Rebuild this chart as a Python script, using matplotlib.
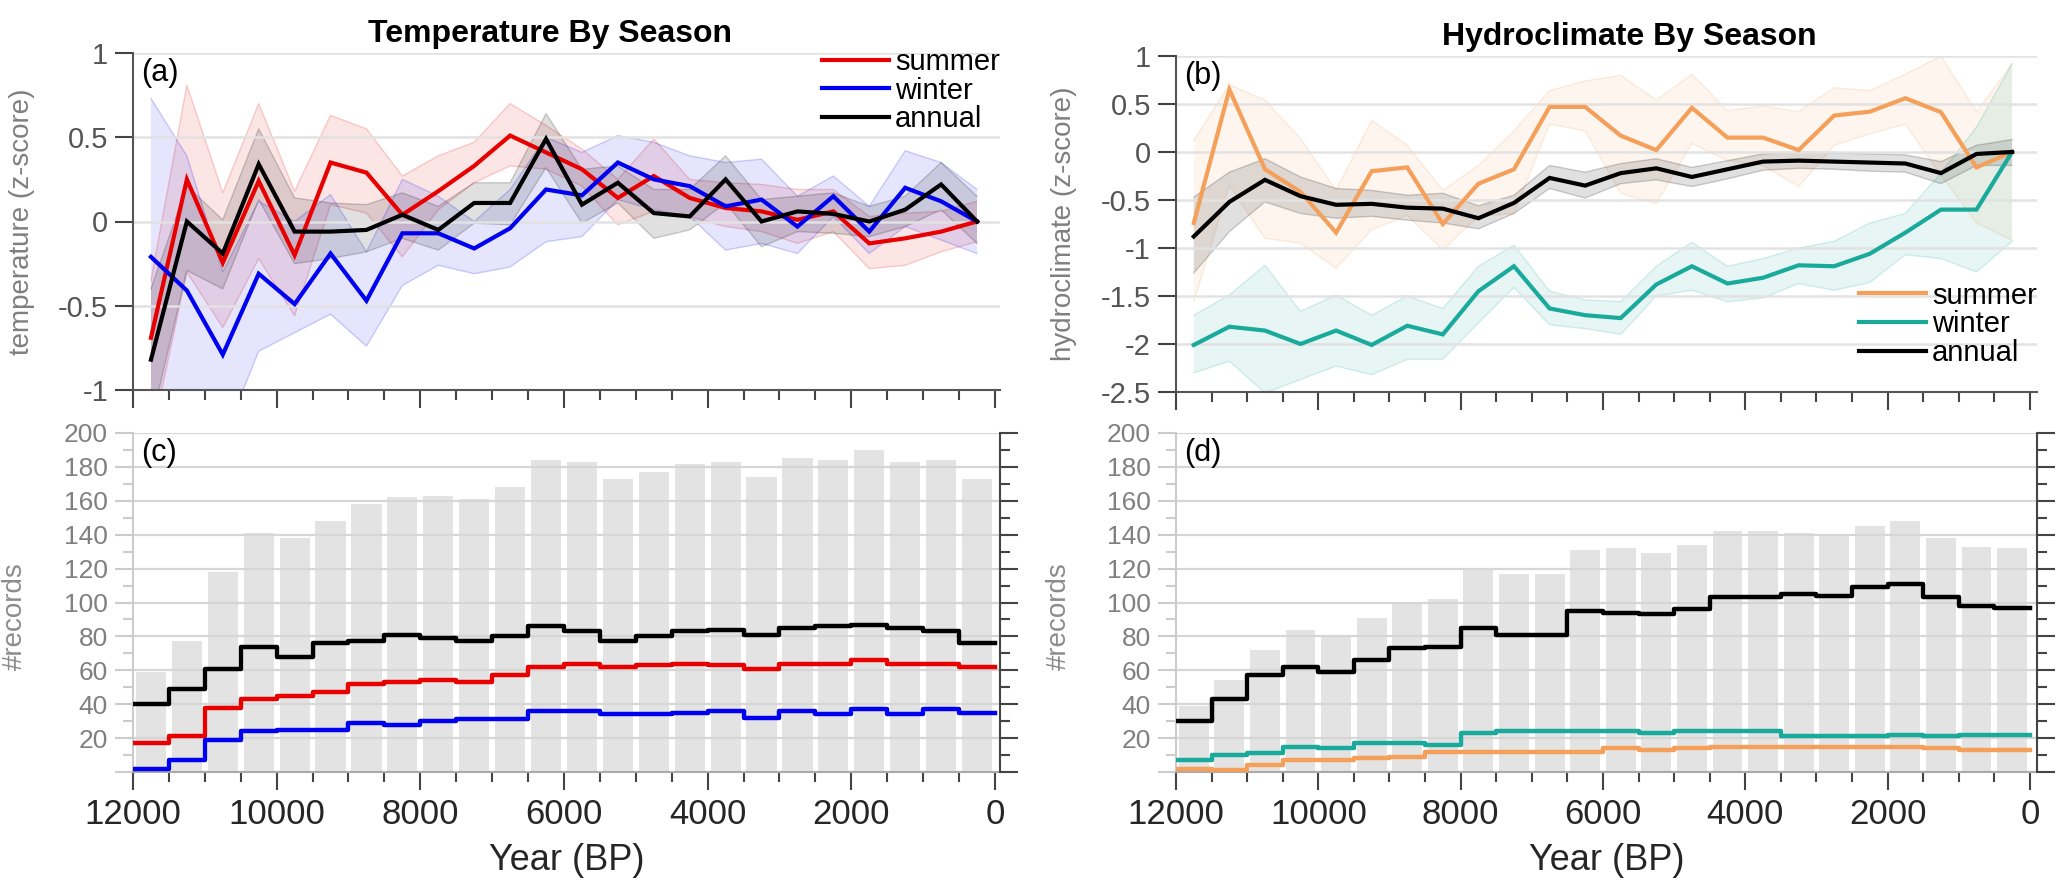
import matplotlib
matplotlib.use('Agg')
import matplotlib.pyplot as plt
import numpy as np
from matplotlib.ticker import MultipleLocator, FuncFormatter

plt.rcParams['font.family'] = ['Liberation Sans', 'DejaVu Sans']
plt.rcParams['axes.unicode_minus'] = False

# bin centres and bin edges (years BP)
ages = [11750, 11250, 10750, 10250, 9750, 9250, 8750, 8250, 7750, 7250, 6750, 6250,
        5750, 5250, 4750, 4250, 3750, 3250, 2750, 2250, 1750, 1250, 750, 250]
edges = [12000, 11500, 11000, 10500, 10000, 9500, 9000, 8500, 8000, 7500, 7000, 6500, 6000,
         5500, 5000, 4500, 4000, 3500, 3000, 2500, 2000, 1500, 1000, 500, 0]

# (a) temperature composites (z-score) with uncertainty band
temp_summer = [-0.69, 0.25, -0.245, 0.24, -0.2, 0.35, 0.29, 0.04, 0.18, 0.33, 0.51, 0.41,
               0.31, 0.14, 0.27, 0.14, 0.08, 0.06, 0.01, 0.06, -0.13, -0.10, -0.06, 0.0]
temp_summer_hi = [-0.35, 0.81, 0.17, 0.70, 0.18, 0.63, 0.55, 0.27, 0.39, 0.47, 0.70, 0.57,
                  0.43, 0.25, 0.49, 0.25, 0.23, 0.22, 0.19, 0.19, 0.03, 0.05, 0.06, 0.12]
temp_summer_lo = [-1.3, -0.30, -0.63, -0.22, -0.56, 0.10, 0.05, -0.21, 0.07, 0.23, 0.33, 0.31,
                  0.21, -0.02, 0.06, 0.03, -0.03, -0.06, -0.13, -0.06, -0.28, -0.26, -0.18, -0.12]
temp_winter = [-0.21, -0.41, -0.79, -0.31, -0.49, -0.19, -0.47, -0.07, -0.07, -0.16, -0.04, 0.19,
               0.155, 0.35, 0.25, 0.21, 0.09, 0.13, -0.03, 0.15, -0.06, 0.20, 0.12, 0.0]
temp_winter_hi = [0.73, 0.39, -0.30, 0.12, 0.0, 0.16, -0.18, 0.25, 0.15, 0.0, 0.19, 0.50,
                  0.41, 0.51, 0.47, 0.39, 0.35, 0.37, 0.15, 0.27, 0.09, 0.42, 0.35, 0.19]
temp_winter_lo = [-1.4, -1.25, -1.3, -0.77, -0.66, -0.55, -0.74, -0.38, -0.26, -0.31, -0.27, -0.12,
                  -0.09, 0.13, 0.07, 0.03, -0.17, -0.13, -0.19, 0.03, -0.19, -0.03, -0.11, -0.19]
temp_annual = [-0.82, 0.0, -0.19, 0.34, -0.06, -0.06, -0.05, 0.04, -0.05, 0.11, 0.11, 0.49,
               0.10, 0.23, 0.05, 0.03, 0.25, 0.0, 0.06, 0.045, 0.0, 0.07, 0.22, 0.0]
temp_annual_hi = [-0.40, 0.21, 0.01, 0.55, 0.14, 0.11, 0.10, 0.17, 0.09, 0.23, 0.23, 0.64,
                  0.31, 0.33, 0.19, 0.19, 0.39, 0.13, 0.15, 0.17, 0.09, 0.15, 0.35, 0.15]
temp_annual_lo = [-1.2, -0.29, -0.40, 0.13, -0.25, -0.22, -0.18, -0.10, -0.17, -0.01, -0.02, 0.32,
                  -0.01, 0.11, -0.10, -0.05, 0.11, -0.15, -0.06, -0.07, -0.09, -0.03, 0.07, -0.13]

# (b) hydroclimate composites (z-score)
hydro_summer = [-0.74, 0.65, -0.18, -0.415, -0.84, -0.20, -0.16, -0.75, -0.33, -0.18, 0.47, 0.47,
                0.17, 0.02, 0.46, 0.15, 0.15, 0.02, 0.38, 0.42, 0.56, 0.415, -0.16, 0.0]
hydro_summer_hi = [0.12, 0.70, 0.54, 0.14, -0.40, 0.33, 0.07, -0.40, -0.14, 0.22, 0.64, 0.74,
                   0.80, 0.54, 0.81, 0.43, 0.48, 0.42, 0.67, 0.64, 0.81, 1.0, 0.42, 0.92]
hydro_summer_lo = [-1.56, -0.35, -0.90, -0.95, -1.21, -0.81, -0.66, -1.02, -0.67, -0.64, 0.29, 0.22,
                   -0.43, -0.54, 0.09, -0.09, -0.14, -0.36, 0.07, 0.19, 0.29, -0.24, -0.74, -0.92]
hydro_winter = [-2.01, -1.82, -1.86, -2.0, -1.86, -2.01, -1.81, -1.90, -1.45, -1.19, -1.63, -1.70,
                -1.73, -1.38, -1.19, -1.37, -1.31, -1.18, -1.19, -1.06, -0.84, -0.60, -0.60, 0.0]
hydro_winter_hi = [-1.70, -1.49, -1.18, -1.66, -1.49, -1.70, -1.50, -1.63, -1.19, -0.97, -1.45, -1.54,
                   -1.56, -1.19, -0.94, -1.19, -1.11, -1.00, -0.93, -0.74, -0.64, -0.22, 0.26, 0.92]
hydro_winter_lo = [-2.30, -2.18, -2.51, -2.37, -2.23, -2.32, -2.16, -2.16, -1.78, -1.41, -1.80, -1.84,
                   -1.90, -1.50, -1.44, -1.56, -1.52, -1.37, -1.44, -1.36, -1.07, -1.11, -1.25, -0.93]
hydro_annual = [-0.88, -0.52, -0.29, -0.46, -0.55, -0.54, -0.58, -0.59, -0.69, -0.53, -0.27, -0.35,
                -0.22, -0.17, -0.26, -0.18, -0.10, -0.09, -0.10, -0.11, -0.12, -0.22, -0.02, 0.0]
hydro_annual_hi = [-0.47, -0.21, -0.07, -0.26, -0.38, -0.40, -0.45, -0.43, -0.56, -0.45, -0.14, -0.21,
                   -0.12, -0.07, -0.16, -0.09, -0.02, 0.0, -0.01, -0.02, -0.03, -0.10, 0.07, 0.13]
hydro_annual_lo = [-1.26, -0.83, -0.52, -0.64, -0.69, -0.67, -0.71, -0.74, -0.80, -0.64, -0.38, -0.48,
                   -0.33, -0.29, -0.36, -0.28, -0.19, -0.17, -0.18, -0.20, -0.21, -0.33, -0.14, -0.14]

# (c) number of temperature records per bin
temp_total = [59, 77, 118, 141, 138, 148, 158, 162, 163, 161, 168, 184,
              183, 173, 177, 182, 183, 174, 185, 184, 190, 183, 184, 173]
temp_n_annual = [40, 49, 61, 74, 68, 76, 77, 81, 79, 77, 80, 86,
                 83, 77, 80, 83, 84, 81, 85, 86, 87, 85, 83, 76]
temp_n_summer = [17, 21, 38, 43, 45, 47, 52, 53, 54, 53, 57, 62,
                 64, 62, 63, 64, 63, 61, 64, 64, 66, 64, 64, 62]
temp_n_winter = [2, 7, 19, 24, 25, 25, 29, 28, 30, 31, 31, 36,
                 36, 34, 34, 35, 36, 32, 36, 34, 37, 34, 37, 35]

# (d) number of hydroclimate records per bin
hydro_total = [39, 54, 72, 84, 80, 91, 99, 102, 120, 117, 117, 131,
               132, 129, 134, 142, 142, 141, 140, 145, 148, 138, 133, 132]
hydro_n_annual = [30, 43, 57, 62, 59, 66, 73, 74, 85, 81, 81, 95,
                  94, 93, 96, 103, 103, 105, 104, 109, 111, 103, 98, 97]
hydro_n_winter = [7, 10, 11, 15, 14, 17, 17, 16, 23, 24, 24, 24,
                  24, 23, 24, 24, 24, 21, 21, 21, 22, 21, 22, 22]
hydro_n_summer = [2, 1, 4, 7, 7, 8, 9, 12, 12, 12, 12, 12,
                  14, 13, 14, 15, 15, 15, 15, 15, 15, 14, 13, 13]

RED, BLUE, BLACK = '#e80000', '#0000f0', '#000000'
ORANGE, TEAL = '#f4a05a', '#1aaa9c'

W, H = 2067, 892
fig = plt.figure(figsize=(W / 100, H / 100), dpi=100)


def rect(left, top, right, bottom):
    return [left / W, 1 - bottom / H, (right - left) / W, (bottom - top) / H]


ax_a = fig.add_axes(rect(133, 53, 1000, 390))
ax_b = fig.add_axes(rect(1176, 56, 2037, 392))
ax_c = fig.add_axes(rect(133, 433, 1000, 772))
ax_d = fig.add_axes(rect(1176, 433, 2037, 772))


def fmt_num(v, pos):
    return '%g' % v


def style_x(ax, right, labels):
    ax.set_xlim(12000, right)
    ax.xaxis.set_major_locator(MultipleLocator(2000))
    ax.xaxis.set_minor_locator(MultipleLocator(500))
    ax.tick_params(axis='x', which='major', direction='out', length=13, width=1.5,
                   color='#444444', labelsize=25, labelcolor='#262626', pad=6,
                   labelbottom=labels)
    ax.tick_params(axis='x', which='minor', direction='out', length=7, width=1.5,
                   color='#444444')
    ax.set_axisbelow('line')


def style_top(ax, ylim, ylabel, tag, right, lx):
    style_x(ax, right, False)
    ax.set_ylim(ylim)
    ax.yaxis.set_major_locator(MultipleLocator(0.5))
    ax.yaxis.set_major_formatter(FuncFormatter(fmt_num))
    ax.tick_params(axis='y', direction='out', length=13, width=1.5, color='#444444',
                   labelsize=21, labelcolor='#555555', pad=5)
    for s in ['top', 'right']:
        ax.spines[s].set_visible(False)
    for s in ['left', 'bottom']:
        ax.spines[s].set_color('#555555')
        ax.spines[s].set_linewidth(1.5)
    ax.yaxis.grid(True, color='#e2e2e2', lw=1.8)
    ax.set_ylabel(ylabel, fontsize=20, color='#7f7f7f')
    ax.yaxis.set_label_coords(lx, 0.5)
    ax.text(0.009, 0.985, tag, transform=ax.transAxes, fontsize=22, va='top', ha='left')


def band(ax, y, lo, hi, col, label, fa=0.1):
    ax.fill_between(ages, lo, hi, facecolor=col, alpha=fa, edgecolor='none', zorder=1)
    ax.plot(ages, lo, color=col, alpha=0.18, lw=1.0, zorder=1)
    ax.plot(ages, hi, color=col, alpha=0.18, lw=1.0, zorder=1)
    ax.plot(ages, y, color=col, lw=3, label=label, zorder=3, solid_joinstyle='miter')


def legend(ax, loc, anchor):
    ax.legend(loc=loc, bbox_to_anchor=anchor, frameon=False, fontsize=21,
              handlelength=2.3, handletextpad=0.2, labelspacing=0.02,
              borderaxespad=0, borderpad=0)


# ---- (a) temperature
band(ax_a, temp_summer, temp_summer_lo, temp_summer_hi, RED, 'summer')
band(ax_a, temp_winter, temp_winter_lo, temp_winter_hi, BLUE, 'winter')
band(ax_a, temp_annual, temp_annual_lo, temp_annual_hi, BLACK, 'annual', fa=0.12)
style_top(ax_a, (-1, 1), 'temperature (z-score)', '(a)', -70, -0.113)
ax_a.set_title('Temperature By Season', fontsize=23, fontweight='bold', x=0.481, pad=8)
legend(ax_a, 'upper right', (1.0, 1.015))

# ---- (b) hydroclimate
band(ax_b, hydro_summer, hydro_summer_lo, hydro_summer_hi, ORANGE, 'summer')
band(ax_b, hydro_winter, hydro_winter_lo, hydro_winter_hi, TEAL, 'winter')
band(ax_b, hydro_annual, hydro_annual_lo, hydro_annual_hi, BLACK, 'annual', fa=0.12)
style_top(ax_b, (-2.5, 1), 'hydroclimate (z-score)', '(b)', -100, -0.115)
ax_b.set_title('Hydroclimate By Season', fontsize=23, fontweight='bold', x=0.527, pad=8)
legend(ax_b, 'lower right', (1.0, 0.075))


# ---- (c) / (d) record counts
def count_panel(ax, total, series, tag, right, lx):
    ax.bar(ages, total, width=420, color='#e3e3e3', zorder=1)
    for vals, col in series:
        ax.step(edges, list(vals) + [vals[-1]], where='post', color=col, lw=3.2, zorder=3)
    style_x(ax, right, True)
    ax.set_ylim(0, 200)
    ax.yaxis.set_major_locator(MultipleLocator(20))
    ax.yaxis.set_minor_locator(MultipleLocator(10))
    ax.yaxis.set_major_formatter(FuncFormatter(lambda v, p: '' if v == 0 else '%d' % v))
    ax.tick_params(axis='y', which='major', direction='out', length=13, width=1.5,
                   color='#cccccc', labelsize=19, labelcolor='#808080', pad=5)
    ax.tick_params(axis='y', which='minor', direction='out', length=7, width=1.5,
                   color='#cccccc')
    ax.yaxis.grid(True, color='#d6d6d6', lw=1.6)
    ax.spines['top'].set_visible(False)
    ax.spines['right'].set_visible(False)
    ax.spines['left'].set_color('#cccccc')
    ax.spines['left'].set_linewidth(1.5)
    ax.spines['bottom'].set_color('#aaaaaa')
    ax.spines['bottom'].set_linewidth(1.5)
    ax.set_ylabel('#records', fontsize=20, color='#8c8c8c')
    ax.yaxis.set_label_coords(lx, 0.46)
    ax.set_xlabel('Year (BP)', fontsize=26, color='#262626', labelpad=8)
    ax.text(0.009, 0.985, tag, transform=ax.transAxes, fontsize=22, va='top', ha='left')

    rax = ax.twinx()
    rax.set_ylim(0, 200)
    rax.yaxis.set_major_locator(MultipleLocator(20))
    rax.yaxis.set_minor_locator(MultipleLocator(10))
    rax.tick_params(axis='y', which='major', direction='out', length=13, width=1.5,
                    color='#444444', labelright=False)
    rax.tick_params(axis='y', which='minor', direction='out', length=7, width=1.5,
                    color='#444444')
    for s in ['top', 'left', 'bottom']:
        rax.spines[s].set_visible(False)
    rax.spines['right'].set_color('#444444')
    rax.spines['right'].set_linewidth(1.5)


count_panel(ax_c, temp_total,
            [(temp_n_annual, BLACK), (temp_n_summer, RED), (temp_n_winter, BLUE)],
            '(c)', -70, -0.121)
count_panel(ax_d, hydro_total,
            [(hydro_n_annual, BLACK), (hydro_n_winter, TEAL), (hydro_n_summer, ORANGE)],
            '(d)', -100, -0.121)

fig.savefig('out.png', dpi=100)
